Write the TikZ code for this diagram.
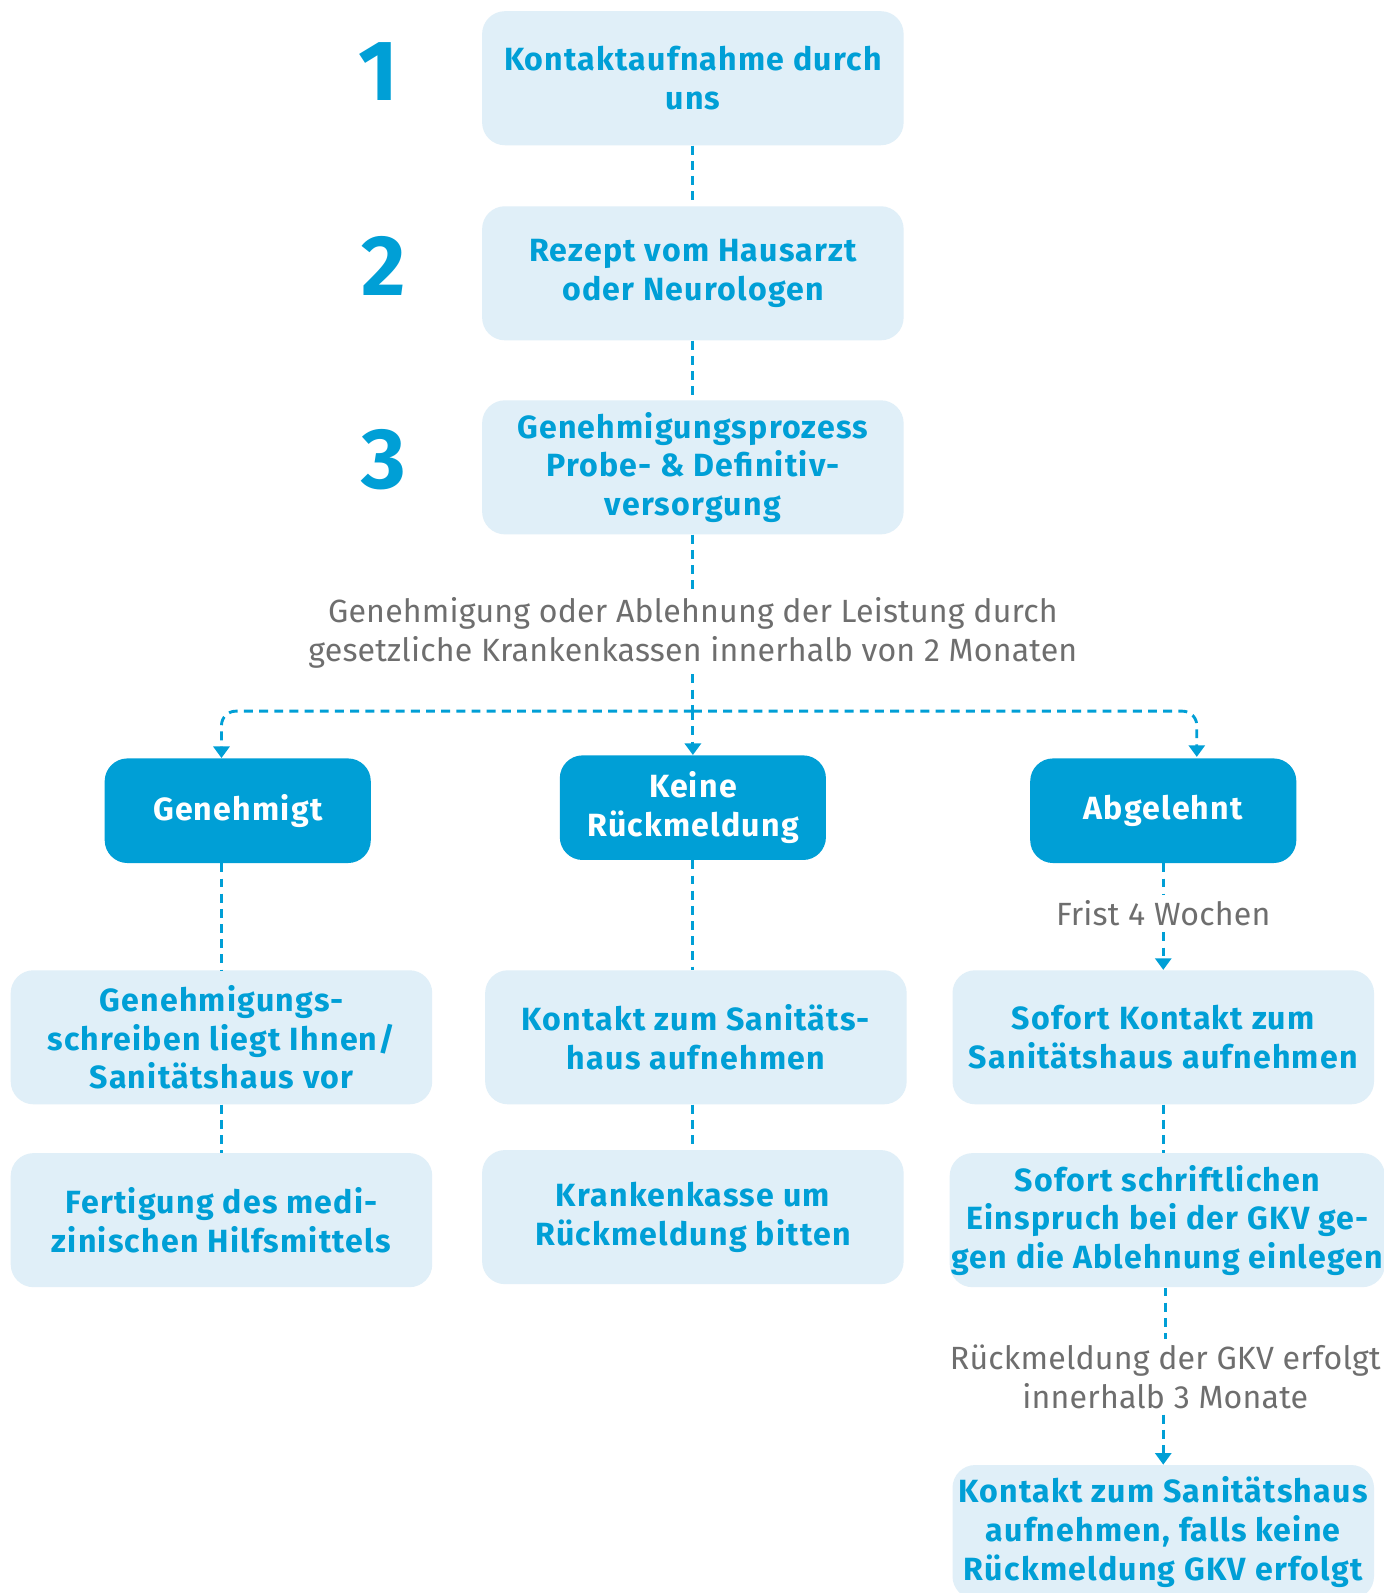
\documentclass[tikz,border=0pt]{standalone}
\usepackage{fontspec}
\setmainfont{Fira Sans}
\newfontfamily\boxfont[LetterSpace=3.8]{Fira Sans}
\newfontfamily\notefont[LetterSpace=0.6]{Fira Sans}
\usetikzlibrary{arrows.meta}
\definecolor{pblue}{HTML}{009FD6}
\definecolor{plight}{HTML}{E0EFF8}
\definecolor{pgrey}{HTML}{6E6E6E}
\tikzset{
  lightbox/.style={fill=plight, rounded corners=0.45cm, minimum width=8.3cm, minimum height=2.64cm, inner xsep=1pt, align=center, text=pblue, font=\boxfont\fontsize{18}{21.6}\selectfont\bfseries},
  darkbox/.style={fill=pblue, rounded corners=0.45cm, minimum width=5.24cm, minimum height=2.06cm, align=center, text=white, font=\boxfont\fontsize{18}{21.6}\selectfont\bfseries},
  note/.style={align=center, text=pgrey, font=\notefont\fontsize{18}{21.6}\selectfont},
  stepno/.style={text=pblue, font=\fontsize{48}{48}\selectfont\bfseries},
  conn/.style={pblue, line width=1.6pt, dash pattern=on 5pt off 3.5pt},
  arr/.style={conn, -{Triangle[width=9pt,length=6.5pt]}},
}
\begin{document}
\begin{tikzpicture}[x=0.02cm, y=-0.02cm]
	\useasboundingbox (0,0) rectangle (1362,1568);
	\fill[white] (0,0) rectangle (1362,1568);
	
	% steps 1 to 3
	\node[stepno] (n1) at (372,70) {1};
	\node[stepno] (n2) at (378,262) {2};
	\node[stepno] (n3) at (378,452) {3};
	\node[lightbox] (kontaktuns) at (682,77) {Kontaktaufnahme durch\\uns};
	\node[lightbox] (rezept) at (682,269) {Rezept vom Hausarzt\\oder Neurologen};
	\node[lightbox] (genprozess) at (682,460) {Genehmigungsprozess\\Probe- \& Definitiv-\\versorgung};
	\draw[conn] (kontaktuns) -- (rezept);
	\draw[conn] (rezept) -- (genprozess);
	
	% decision of the health insurance
	\node[note] (frist2) at (682,623) {Genehmigung oder Ablehnung der Leistung durch\\gesetzliche Krankenkassen innerhalb von 2 Monaten};
	\draw[conn] (genprozess) -- (frist2);
	\coordinate (split) at (682,700);
	\draw[conn] (frist2) -- (split);
	
	\node[darkbox] (genehmigt) at (234,798) {Genehmigt};
	\node[darkbox] (keine) at (682,795) {Keine\\Rückmeldung};
	\node[darkbox] (abgelehnt) at (1145,798) {Abgelehnt};
	
	% left column
	\node[lightbox] (schreiben) at (218,1021) {Genehmigungs-\\schreiben liegt Ihnen/\\Sanitätshaus vor};
	\node[lightbox] (fertigung) at (218,1201) {Fertigung des medi-\\zinischen Hilfsmittels};
	\draw[arr, rounded corners=8pt] (split) -| (genehmigt.north -| schreiben.north);
	\draw[conn] (genehmigt.south -| schreiben.north) -- (schreiben);
	\draw[conn] (schreiben) -- (fertigung);
	
	% middle column
	\node[lightbox] (sanitaets) at (685,1021) {Kontakt zum Sanitäts-\\haus aufnehmen};
	\node[lightbox] (bitten) at (682,1198) {Krankenkasse um\\Rückmeldung bitten};
	\draw[arr] (split) -- (keine);
	\draw[conn] (keine.south) -- (keine.south |- sanitaets.north);
	\draw[conn] (sanitaets.south -| bitten.north) -- (bitten);
	
	% right column
	\coordinate (abgin) at (1178,745);
	\node[note] (frist4) at (1145,899) {Frist 4 Wochen};
	\node[lightbox] (sofort) at (1145,1021) {Sofort Kontakt zum\\Sanitätshaus aufnehmen};
	\node[lightbox, minimum width=8.48cm] (einspruch) at (1149,1201) {Sofort schriftlichen\\Einspruch bei der GKV ge-\\gen die Ablehnung einlegen};
	\node[note] (frist3) at (1147,1355) {Rückmeldung der GKV erfolgt\\innerhalb 3 Monate};
	\node[lightbox] (falls) at (1145,1508) {Kontakt zum Sanitätshaus\\aufnehmen, falls keine\\Rückmeldung GKV erfolgt};
	\draw[arr, rounded corners=8pt] (split) -| (abgin);
	\draw[conn] (abgelehnt) -- (frist4);
	\draw[arr] (frist4) -- (sofort);
	\draw[conn] (sofort.south) -- (sofort.south |- einspruch.north);
	\draw[conn] (einspruch.south -| frist3.north) -- (frist3);
	\draw[arr] (frist3.south -| falls.north) -- (falls);
	
\end{tikzpicture}
\end{document}
